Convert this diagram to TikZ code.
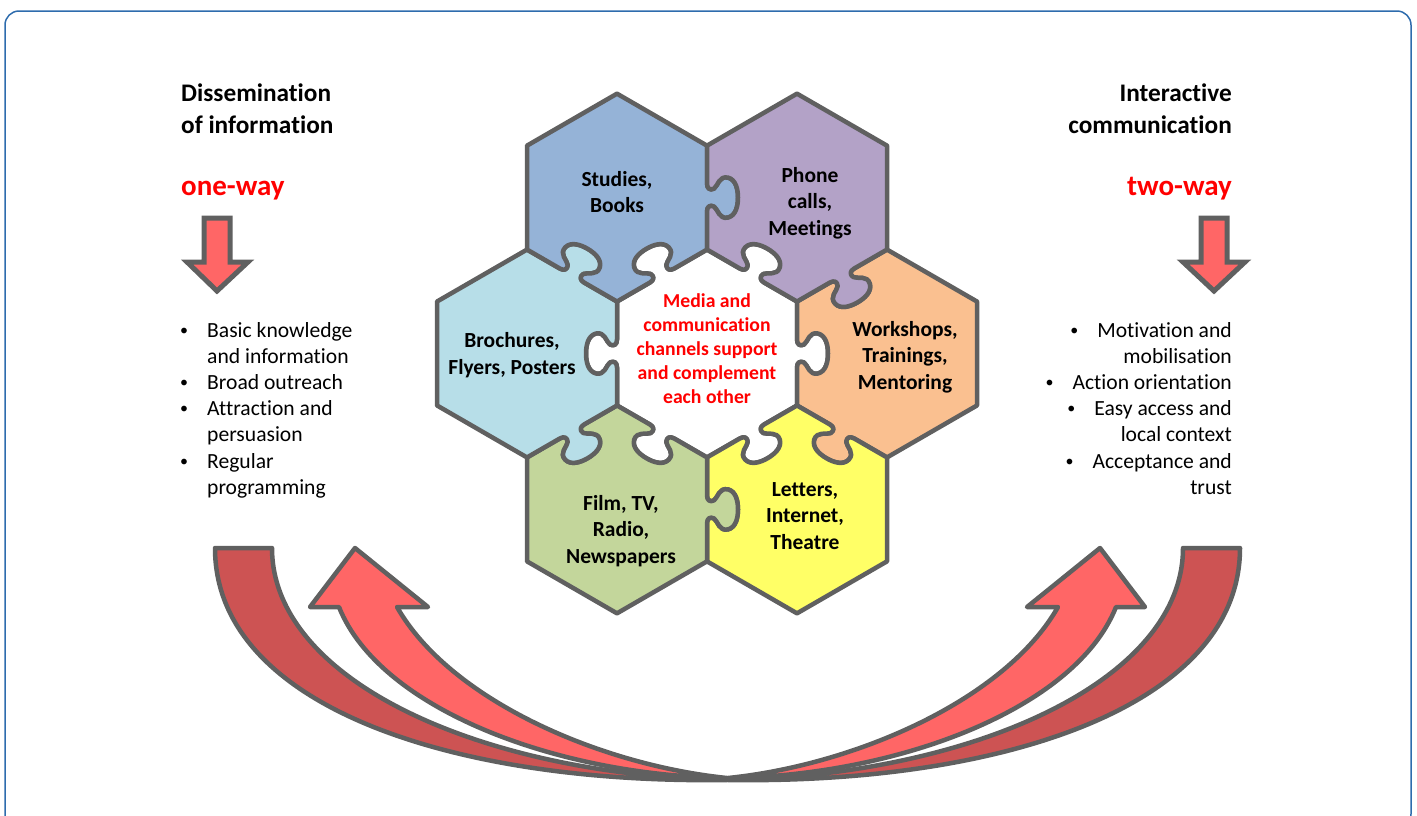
\documentclass[tikz,border=0pt]{standalone}
\usepackage{fontspec}
\setmainfont{Carlito}[Ligatures=NoCommon]
\definecolor{studiesc}{HTML}{95B3D7}
\definecolor{phonec}{HTML}{B3A2C7}
\definecolor{brochc}{HTML}{B7DEE8}
\definecolor{workc}{HTML}{FAC090}
\definecolor{filmc}{HTML}{C3D69B}
\definecolor{letterc}{HTML}{FFFF66}
\definecolor{linegray}{HTML}{606060}
\definecolor{lightred}{HTML}{FF6666}
\definecolor{darkred}{HTML}{CD5353}
\definecolor{frameblue}{HTML}{2E6CAD}
\definecolor{textred}{HTML}{FF0000}
\newcommand{\bulmark}{\makebox[0pt]{\raisebox{1.5pt}{\fontsize{16}{16}\selectfont\textbullet}}\hspace{23pt}}
\begin{document}
\begin{tikzpicture}[x=1pt,y=1pt,yscale=-1,
  piece/.style={draw=linegray, line width=4.5pt, line join=round},
  bigline/.style={draw=linegray, line width=4.5pt, line join=round},
  hexedge/.style 2 args={insert path={
    -- ([rotate=#1]90,-14)
    .. controls ([rotate=#1]90,-9) and ([rotate=#1]{90+3*#2},-7) .. ([rotate=#1]{90+7*#2},-9)
    .. controls ([rotate=#1]{90+11*#2},-12) and ([rotate=#1]{90+12*#2},-22) .. ([rotate=#1]{90+21*#2},-20)
    .. controls ([rotate=#1]{90+29*#2},-18) and ([rotate=#1]{90+31*#2},-8) .. ([rotate=#1]{90+31*#2},0)
    .. controls ([rotate=#1]{90+31*#2},8) and ([rotate=#1]{90+29*#2},18) .. ([rotate=#1]{90+21*#2},20)
    .. controls ([rotate=#1]{90+12*#2},22) and ([rotate=#1]{90+11*#2},12) .. ([rotate=#1]{90+7*#2},9)
    .. controls ([rotate=#1]{90+3*#2},7) and ([rotate=#1]90,9) .. ([rotate=#1]90,14)
    -- ([rotate=#1]90,51.96)}},
  hexside/.style={insert path={-- ([rotate=#1]90,51.96)}},
  hexlabel/.style={align=center, inner sep=0pt, font=\fontsize{21.5}{26.3}\selectfont\bfseries},
  hdr/.style={inner sep=0pt, font=\fontsize{25.3}{31}\selectfont\bfseries},
  way/.style={inner sep=0pt, text=textred, font=\fontsize{29}{35}\selectfont\bfseries},
  bul/.style={inner sep=0pt, font=\fontsize{21.6}{26.3}\selectfont},
  smallarrow/.style={draw=linegray, line width=5pt, line join=miter, fill=lightred}
]
\useasboundingbox (0,0) rectangle (1417,815);
% frame
\draw[frameblue, line width=1.5pt, rounded corners=14pt] (5,11) rectangle (1411,828);

% headers
\node[hdr, anchor=base west] (dis1) at (181,101) {Dissemination};
\node[hdr, anchor=base west] (dis2) at (181,133) {of information};
\node[way, anchor=base west] (oneway) at (181,195) {one-way};
\node[hdr, anchor=base east] (int1) at (1232,101) {Interactive};
\node[hdr, anchor=base east] (int2) at (1232,133) {communication};
\node[way, anchor=base east] (twoway) at (1232,195) {two-way};

% small down arrows
\path[smallarrow] (204,218) -- (230,218) -- (230,262) -- (248,262) -- (217,291) -- (187,262) -- (204,262) -- cycle;
\path[smallarrow] (1201,218) -- (1227,218) -- (1227,262) -- (1245,262) -- (1214,291) -- (1183,262) -- (1201,262) -- cycle;

% left bullets
\node[bul, anchor=base west] (l1) at (184,337) {\bulmark Basic knowledge};
\node[bul, anchor=base west] (l1b) at (207,363) {and information};
\node[bul, anchor=base west] (l2) at (184,389) {\bulmark Broad outreach};
\node[bul, anchor=base west] (l3) at (184,415) {\bulmark Attraction and};
\node[bul, anchor=base west] (l3b) at (207,441) {persuasion};
\node[bul, anchor=base west] (l4) at (184,468) {\bulmark Regular};
\node[bul, anchor=base west] (l4b) at (207,494) {programming};

% right bullets
\node[bul, anchor=base east] (r1) at (1232,337) {\bulmark Motivation and};
\node[bul, anchor=base east] (r1b) at (1232,363) {mobilisation};
\node[bul, anchor=base east] (r2) at (1232,389) {\bulmark Action orientation};
\node[bul, anchor=base east] (r3) at (1232,415) {\bulmark Easy access and};
\node[bul, anchor=base east] (r3b) at (1232,441) {local context};
\node[bul, anchor=base east] (r4) at (1232,468) {\bulmark Acceptance and};
\node[bul, anchor=base east] (r4b) at (1232,494) {trust};

% big curved arrows, left
\path[bigline, fill=darkred] (215,548) -- (272,548) .. controls (272,680) and (480,775) .. (727,780) .. controls (450,784) and (215,705) .. (215,548) -- cycle;
\path[bigline, fill=lightred] (339,607) -- (310,607) -- (355,548) -- (428,607) -- (397,607) .. controls (450,700) and (600,765) .. (727,778) .. controls (560,776) and (380,710) .. (339,607) -- cycle;
% right (mirrored)
\begin{scope}[shift={(1455,0)}, xscale=-1]
\path[bigline, fill=darkred] (215,548) -- (272,548) .. controls (272,680) and (480,775) .. (727,780) .. controls (450,784) and (215,705) .. (215,548) -- cycle;
\path[bigline, fill=lightred] (339,607) -- (310,607) -- (355,548) -- (428,607) -- (397,607) .. controls (450,700) and (600,765) .. (727,778) .. controls (560,776) and (380,710) .. (339,607) -- cycle;
\end{scope}

% puzzle pieces
% centre
\begin{scope}[shift={(707,353.5)}]
\path[piece, fill=white] (90,-51.96) [hexedge={0}{1}] [hexedge={60}{1}] [hexedge={120}{1}] [hexedge={180}{1}] [hexedge={240}{1}] [hexedge={300}{1}] -- cycle;
\end{scope}
% Workshops
\begin{scope}[shift={(887,353.5)}]
\path[piece, fill=workc] (90,-51.96) [hexside=0] [hexside=60] [hexedge={120}{1}] [hexedge={180}{-1}] [hexedge={240}{-1}] [hexside=300] -- cycle;
\end{scope}
% Letters
\begin{scope}[shift={(797,509.4)}]
\path[piece, fill=letterc] (90,-51.96) [hexside=0] [hexside=60] [hexside=120] [hexedge={180}{-1}] [hexedge={240}{-1}] [hexedge={300}{-1}] -- cycle;
\end{scope}
% Film
\begin{scope}[shift={(617,509.4)}]
\path[piece, fill=filmc] (90,-51.96) [hexedge={0}{1}] [hexside=60] [hexside=120] [hexside=180] [hexedge={240}{-1}] [hexedge={300}{-1}] -- cycle;
\end{scope}
% Brochures
\begin{scope}[shift={(527,353.5)}]
\path[piece, fill=brochc] (90,-51.96) [hexedge={0}{-1}] [hexedge={60}{1}] [hexside=120] [hexside=180] [hexside=240] [hexedge={300}{1}] -- cycle;
\end{scope}
% Studies
\begin{scope}[shift={(617,197.6)}]
\path[piece, fill=studiesc] (90,-51.96) [hexedge={0}{1}] [hexedge={60}{-1}] [hexedge={120}{-1}] [hexside=180] [hexside=240] [hexside=300] -- cycle;
\end{scope}
% Phone
\begin{scope}[shift={(797,197.6)}]
\path[piece, fill=phonec] (90,-51.96) [hexside=0] [hexedge={60}{1}] [hexedge={120}{-1}] [hexedge={180}{-1}] [hexside=240] [hexside=300] -- cycle;
\end{scope}

% labels
\node[hexlabel] (studies) at (617,192) {Studies,\\Books};
\node[hexlabel] (phone) at (810,203) {Phone\\calls,\\Meetings};
\node[hexlabel] (broch) at (512,355) {Brochures,\\Flyers, Posters};
\node[hexlabel] (work) at (905,357) {Workshops,\\Trainings,\\Mentoring};
\node[hexlabel] (film) at (621,531) {Film, TV,\\Radio,\\Newspapers};
\node[hexlabel] (letters) at (805,516) {Letters,\\Internet,\\Theatre};
\node[align=center, inner sep=0pt, text=textred, font=\fontsize{19.7}{24}\selectfont\bfseries] (centre) at (707,349) {Media and\\communication\\channels support\\and complement\\each other};
\end{tikzpicture}
\end{document}
